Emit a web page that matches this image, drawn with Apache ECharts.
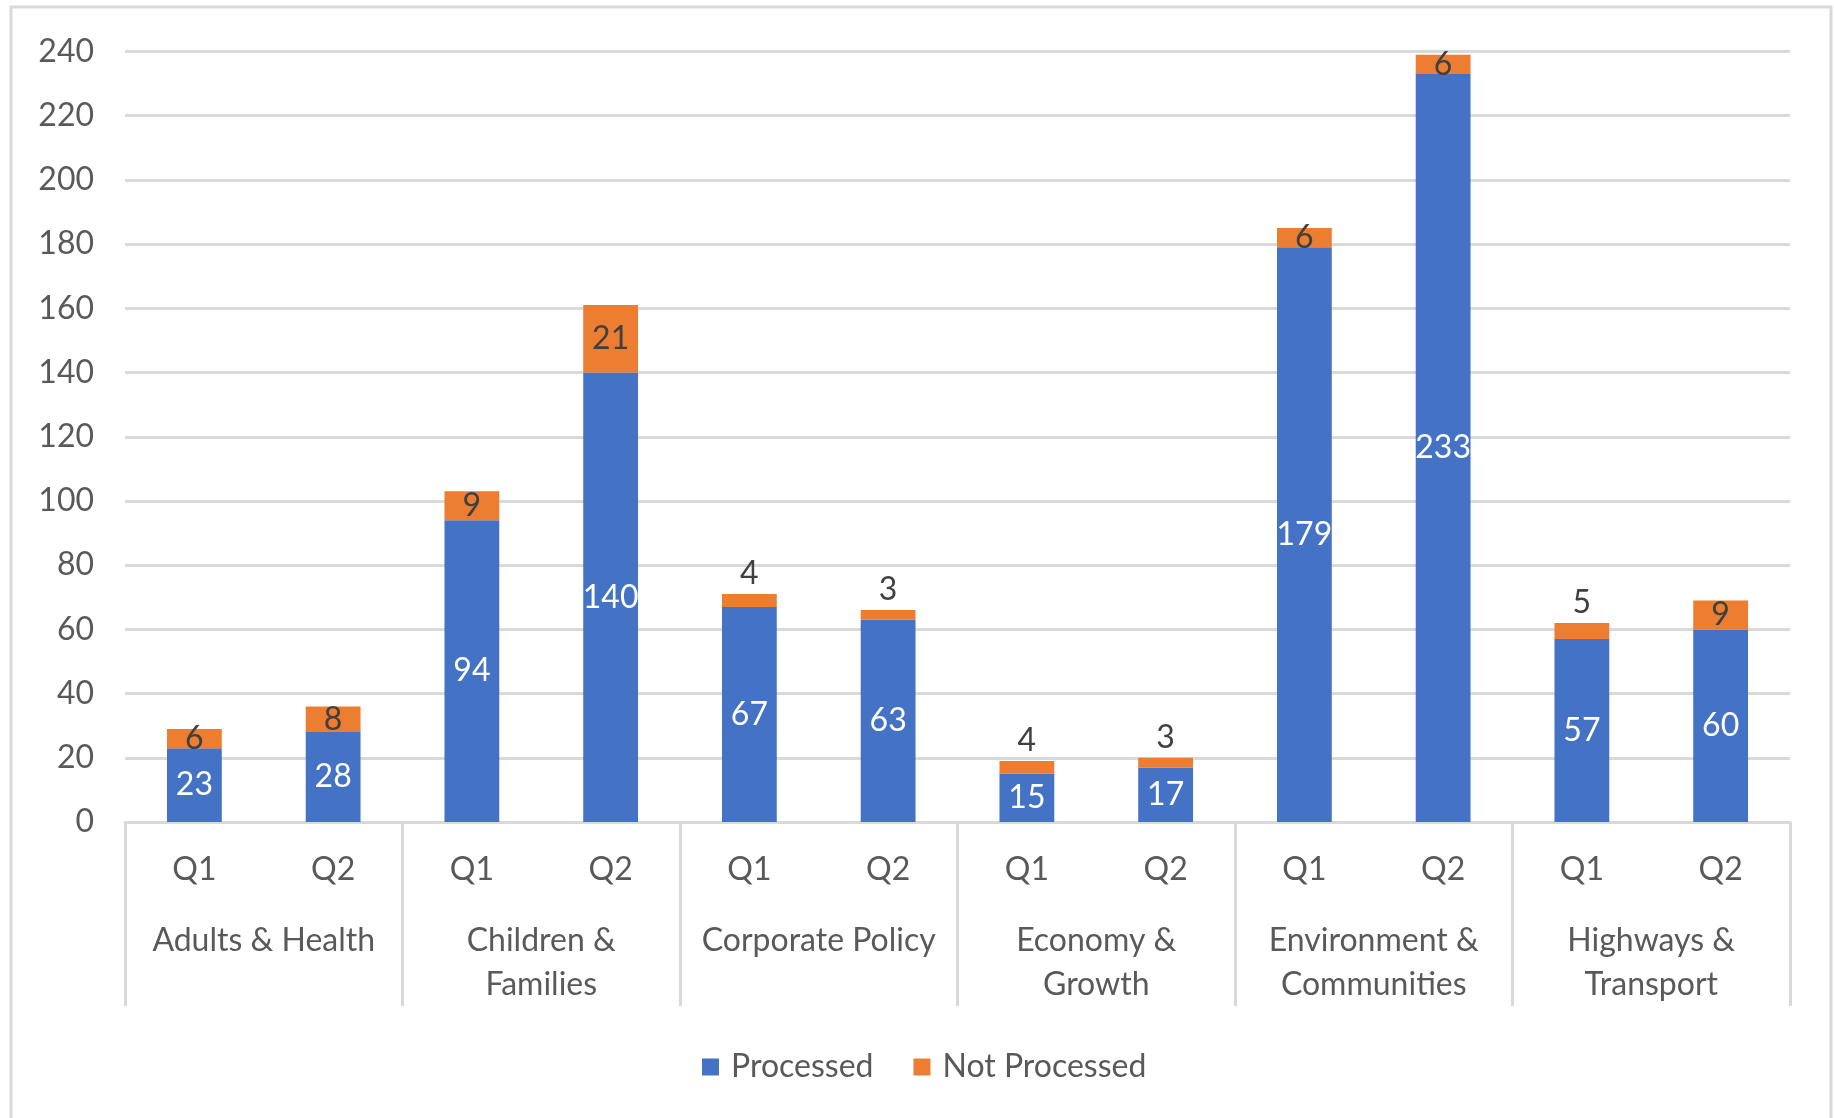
<!DOCTYPE html>
<html>
<head>
<meta charset="utf-8">
<style>
html,body{margin:0;padding:0;background:#fff;}
#chart{width:1834px;height:1118px;}
</style>
<script src="https://cdn.jsdelivr.net/npm/echarts@6/dist/echarts.min.js"></script>
</head>
<body>
<div id="chart"></div>
<script>
const departments = ['Adults & Health','Children &\nFamilies','Corporate Policy','Economy &\nGrowth','Environment &\nCommunities','Highways &\nTransport'];
const quarters = ['Q1','Q2','Q1','Q2','Q1','Q2','Q1','Q2','Q1','Q2','Q1','Q2'];
const processed = [23,28,94,140,67,63,15,17,179,233,57,60];
const notProcessed = [6,8,9,21,4,3,4,3,6,6,5,9];
const yTicks = {min:0,max:240,interval:20};

const FONT = 'Lato';
const FS = 32;
const GRAY = '#595959';
const chart = echarts.init(document.getElementById('chart'));
chart.setOption({
  animation:false,
  textStyle:{fontFamily:FONT},
  graphic:[{type:'rect',shape:{x:11,y:7,width:1820,height:1200},style:{fill:'none',stroke:'#d9d9d9',lineWidth:3},silent:true,z:-1}],
  grid:{left:125,right:44,top:51.5,bottom:296},
  legend:{
    data:['Processed','Not Processed'],
    left:697,top:1046,itemWidth:17,itemHeight:17,itemGap:40,icon:'rect',
    textStyle:{fontFamily:FONT,fontSize:FS,color:GRAY,padding:[0,0,0,7]}
  },
  xAxis:[{
    type:'category',data:quarters,position:'bottom',
    axisLine:{show:true,lineStyle:{color:'#d9d9d9',width:3}},
    axisTick:{show:false},
    axisLabel:{interval:0,color:GRAY,fontSize:FS,fontFamily:FONT,margin:30,lineHeight:36}
  },{
    type:'category',data:departments,position:'bottom',
    axisLine:{show:false},
    axisTick:{show:true,interval:0,length:184,lineStyle:{color:'#d9d9d9',width:3}},
    axisLabel:{interval:0,align:'center',color:GRAY,fontSize:FS,fontFamily:FONT,margin:97,lineHeight:44}
  }],
  yAxis:{
    type:'value',min:yTicks.min,max:yTicks.max,interval:yTicks.interval,
    axisLine:{show:false},axisTick:{show:false},
    splitLine:{lineStyle:{color:'#d9d9d9',width:3}},
    axisLabel:{color:GRAY,fontSize:FS,fontFamily:FONT,margin:31}
  },
  series:[{
    name:'Processed',type:'bar',stack:'a',data:processed,barCategoryGap:'60.5%',
    itemStyle:{color:'#4472C4'},
    label:{show:true,position:'inside',color:'#ffffff',fontSize:FS,fontFamily:FONT}
  },{
    name:'Not Processed',type:'bar',stack:'a',barCategoryGap:'60.5%',
    data:notProcessed.map(v=>({value:v,label:{position: v<=5 ? 'top' : 'inside', distance: 4}})),
    itemStyle:{color:'#ED7D31'},
    label:{show:true,color:'#404040',fontSize:FS,fontFamily:FONT}
  }]
});
</script>
</body>
</html>
